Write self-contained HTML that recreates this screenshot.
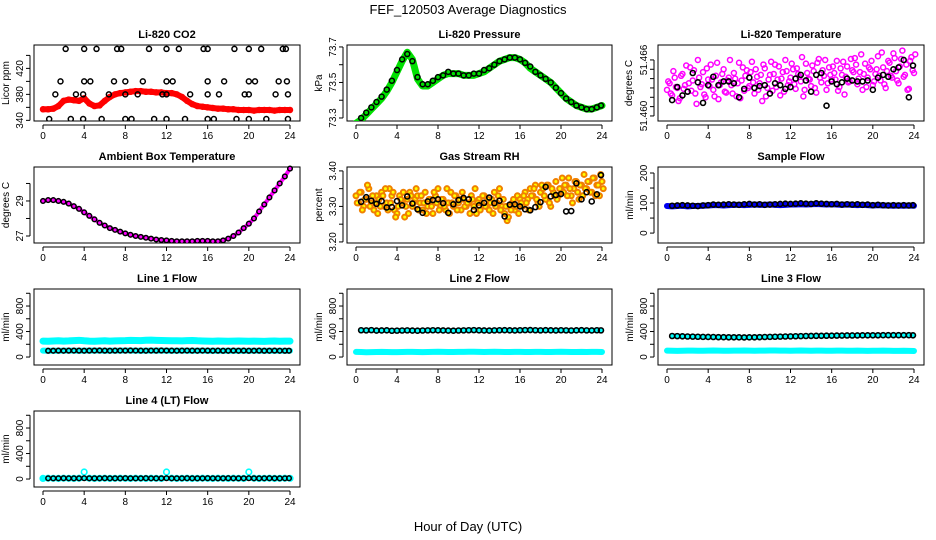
<!DOCTYPE html>
<html><head><meta charset="utf-8">
<style>
html,body{margin:0;padding:0;background:#fff;}
svg{display:block;font-family:"Liberation Sans",Arial,sans-serif;}
</style></head>
<body>
<svg id="chart" width="936" height="540" viewBox="0 0 936 540" xmlns="http://www.w3.org/2000/svg">
<text x="468" y="14" text-anchor="middle" font-size="13">FEF_120503  Average Diagnostics</text>
<text x="468" y="531" text-anchor="middle" font-size="13">Hour of Day (UTC)</text>
</svg>
<script>
// ---------- data ----------
const xTicks = [0,4,8,12,16,20,24];
const halfHours = [0,0.5,1,1.5,2,2.5,3,3.5,4,4.5,5,5.5,6,6.5,7,7.5,8,8.5,9,9.5,10,10.5,11,11.5,12,12.5,13,13.5,14,14.5,15,15.5,16,16.5,17,17.5,18,18.5,19,19.5,20,20.5,21,21.5,22,22.5,23,23.5,24];
const quarterHours = [0,0.25,0.5,0.75,1,1.25,1.5,1.75,2,2.25,2.5,2.75,3,3.25,3.5,3.75,4,4.25,4.5,4.75,5,5.25,5.5,5.75,6,6.25,6.5,6.75,7,7.25,7.5,7.75,8,8.25,8.5,8.75,9,9.25,9.5,9.75,10,10.25,10.5,10.75,11,11.25,11.5,11.75,12,12.25,12.5,12.75,13,13.25,13.5,13.75,14,14.25,14.5,14.75,15,15.25,15.5,15.75,16,16.25,16.5,16.75,17,17.25,17.5,17.75,18,18.25,18.5,18.75,19,19.25,19.5,19.75,20,20.25,20.5,20.75,21,21.25,21.5,21.75,22,22.25,22.5,22.75,23,23.25,23.5,23.75,24];
const blkHours = [0.5,1,1.5,2,2.5,3,3.5,4,4.5,5,5.5,6,6.5,7,7.5,8,8.5,9,9.5,10,10.5,11,11.5,12,12.5,13,13.5,14,14.5,15,15.5,16,16.5,17,17.5,18,18.5,19,19.5,20,20.5,21,21.5,22,22.5,23,23.5,23.9];

const co2Red = [357,357,358,362,370,372,371,370,374,366,362,363,370,376,380,382,383,384,385,385,384,384,383,383,382,382,380,376,370,365,362,361,360,359,358,358,357,357,356,356,356,355,356,356,356,355,356,356,356];
const co2BlkT = [2.2,4,5.2,7.2,7.6,10.3,12,13.2,15.6,16,18.6,20,21.2,23.3,23.6, 1.7,4,4.6,6.9,8,9.7,12,12.6,16,17.6,20,20.6,22.9,23.7, 1.2,3.2,3.9,6.4,8,9.2,11.6,12,14.3,16,17.1,19.6,20,22.6,23.8, 0.6,2.7,3.9,5.7,8,8.6,10.8,12,13.8,16,16.6,18.8,20,21.7,23.8];
const co2BlkV = [450,450,450,450,450,450,450,450,450,450,450,450,450,450,450, 400,400,400,400,400,400,400,400,400,400,400,400,400,400, 380,380,380,380,380,380,380,380,380,380,380,380,380,380,380, 342,342,342,342,342,342,342,342,342,342,342,342,342,342,342];

const presGreen = [73.27,73.29,73.32,73.35,73.38,73.41,73.45,73.50,73.56,73.62,73.67,73.63,73.52,73.48,73.48,73.50,73.52,73.54,73.55,73.55,73.55,73.54,73.54,73.54,73.55,73.56,73.58,73.60,73.62,73.63,73.64,73.64,73.63,73.61,73.58,73.56,73.54,73.52,73.50,73.47,73.44,73.41,73.39,73.37,73.36,73.35,73.35,73.36,73.37];
const presBlk = [73.30,73.33,73.36,73.39,73.42,73.46,73.51,73.57,73.63,73.66,73.62,73.53,73.49,73.49,73.51,73.53,73.54,73.56,73.55,73.55,73.54,73.54,73.55,73.55,73.57,73.58,73.60,73.62,73.63,73.64,73.64,73.63,73.61,73.59,73.56,73.54,73.52,73.50,73.47,73.44,73.41,73.39,73.37,73.36,73.35,73.35,73.36,73.37];

const tempA = [51.4628,51.4635,51.4622,51.4641,51.4630,51.4619,51.4645,51.4633,51.4626,
51.4652,51.4638,51.4624,51.4660,51.4631,51.4647,51.4620,51.4639,
51.4655,51.4628,51.4643,51.4618,51.4636,51.4650,51.4625,51.4641,
51.4633,51.4646,51.4621,51.4657,51.4638,51.4627,51.4649,51.4632,
51.4658,51.4624,51.4642,51.4635,51.4616,51.4651,51.4630,51.4644,
51.4627,51.4655,51.4639,51.4622,51.4647,51.4660,51.4633,51.4641,
51.4650,51.4629,51.4645,51.4637,51.4621,51.4656,51.4640,51.4632,
51.4648,51.4625,51.4661,51.4636,51.4643,51.4628,51.4652,51.4639,
51.4646,51.4659,51.4631,51.4644,51.4623,51.4653,51.4637,51.4649,
51.4662,51.4634,51.4647,51.4628,51.4656,51.4641,51.4650,51.4633,
51.4645,51.4664,51.4638,51.4652,51.4630,51.4659,51.4643,51.4667,
51.4648,51.4635,51.4661,51.4642,51.4655,51.4629,51.4663,51.4646];
const tempB = [51.4637,51.4624,51.4648,51.4631,51.4616,51.4643,51.4629,51.4654,51.4635,
51.4627,51.4649,51.4613,51.4641,51.4634,51.4623,51.4651,51.4632,
51.4639,51.4621,51.4657,51.4633,51.4645,51.4626,51.4638,51.4660,
51.4624,51.4640,51.4635,51.4619,51.4652,51.4643,51.4630,51.4647,
51.4636,51.4650,51.4628,51.4644,51.4655,51.4621,51.4639,51.4658,
51.4645,51.4631,51.4653,51.4640,51.4626,51.4648,51.4637,51.4656,
51.4634,51.4651,51.4642,51.4663,51.4628,51.4646,51.4639,51.4654,
51.4630,51.4657,51.4641,51.4649,51.4660,51.4635,51.4644,51.4653,
51.4639,51.4627,51.4651,51.4658,51.4642,51.4636,51.4661,51.4647,
51.4655,51.4640,51.4666,51.4645,51.4631,51.4652,51.4659,51.4637,
51.4650,51.4643,51.4668,51.4634,51.4648,51.4657,51.4641,51.4662,
51.4638,51.4653,51.4670,51.4644,51.4628,51.4659,51.4649,51.4666];
const tempBlk = [51.4617,51.4631,51.4622,51.4626,51.4646,51.4636,51.4614,51.4633,51.4642,51.4633,51.4637,51.4637,51.4635,51.4620,51.4629,51.4641,51.4630,51.4632,51.4633,51.4624,51.4635,51.4633,51.4629,51.4631,51.4640,51.4644,51.4638,51.4626,51.4644,51.4646,51.4611,51.4637,51.4634,51.4636,51.4640,51.4638,51.4637,51.4637,51.4638,51.4628,51.4641,51.4644,51.4642,51.4650,51.4652,51.4660,51.4620,51.4654];

const ambient = [29.0,29.05,29.05,29.0,28.95,28.85,28.7,28.55,28.35,28.15,27.95,27.75,27.6,27.45,27.35,27.25,27.15,27.07,27.0,26.95,26.9,26.85,26.8,26.77,26.75,26.72,26.7,26.7,26.7,26.7,26.72,26.72,26.72,26.7,26.7,26.75,26.85,27.0,27.2,27.45,27.7,28.0,28.4,28.8,29.2,29.6,30.0,30.4,30.85];

const rhA = [3.33,3.31,3.34,3.30,3.32,3.35,3.31,3.29,3.33,
3.32,3.34,3.30,3.31,3.35,3.33,3.29,3.28,
3.33,3.31,3.27,3.32,3.34,3.30,3.32,3.33,
3.31,3.29,3.34,3.30,3.32,3.28,3.33,3.35,
3.30,3.32,3.29,3.31,3.34,3.30,3.33,3.31,
3.29,3.32,3.30,3.31,3.33,3.30,3.28,3.32,
3.31,3.33,3.30,3.29,3.32,3.34,3.31,3.35,
3.30,3.28,3.26,3.30,3.31,3.29,3.33,3.32,
3.30,3.34,3.32,3.35,3.33,3.36,3.31,3.34,
3.35,3.32,3.36,3.30,3.34,3.37,3.33,3.35,
3.34,3.36,3.38,3.33,3.35,3.37,3.32,3.36,
3.39,3.35,3.37,3.34,3.38,3.36,3.33,3.37];
const rhB = [3.31,3.34,3.29,3.32,3.36,3.30,3.33,3.31,3.28,
3.30,3.33,3.35,3.29,3.31,3.34,3.27,3.30,
3.32,3.34,3.30,3.28,3.33,3.31,3.35,3.29,
3.33,3.31,3.28,3.32,3.30,3.34,3.31,3.29,
3.32,3.30,3.35,3.28,3.31,3.33,3.29,3.32,
3.34,3.30,3.31,3.28,3.32,3.35,3.31,3.29,
3.33,3.30,3.32,3.31,3.28,3.30,3.33,3.29,
3.32,3.30,3.27,3.29,3.32,3.30,3.28,3.31,
3.33,3.31,3.29,3.33,3.35,3.32,3.30,3.36,
3.33,3.36,3.31,3.35,3.33,3.32,3.35,3.38,
3.36,3.33,3.35,3.31,3.37,3.34,3.36,3.33,
3.35,3.37,3.34,3.38,3.33,3.36,3.39,3.35];
const rhBlk = [3.313,3.326,3.316,3.307,3.315,3.297,3.298,3.315,3.303,3.328,3.308,3.292,3.282,3.314,3.318,3.320,3.309,3.282,3.306,3.318,3.324,3.320,3.290,3.303,3.310,3.325,3.309,3.316,3.272,3.305,3.306,3.300,3.292,3.289,3.298,3.312,3.355,3.328,3.332,3.335,3.286,3.287,3.365,3.320,3.340,3.314,3.334,3.388];

const sampleBlue = [90,89,90,91,89,90,90,91,92,93,93,92,93,94,94,93,94,95,94,94,95,94,93,94,95,95,96,95,96,97,96,95,96,95,94,95,94,93,94,93,92,93,92,92,91,92,91,92,91];
const sampleBlk = [91,92,93,92,91,90,92,93,95,94,95,96,95,94,96,97,95,96,94,95,96,97,98,97,98,99,98,97,99,98,97,96,97,95,96,95,96,94,95,93,94,93,92,93,92,93,92,93];

const line1Cyan = [250,248,252,255,250,253,258,262,255,250,248,252,255,250,253,256,258,262,260,258,263,265,262,260,258,256,255,253,258,260,255,252,250,248,252,250,248,250,252,249,247,250,248,246,249,251,248,250,249];
const line1Low = [100,99,100,99,100,101,100,99,100,101,102,100,99,100,101,100,102,101,100,99,101,100,102,101,100,99,100,101,100,99,101,100,99,100,98,99,100,99,100,98,99,100,98,99,100,99,98,99,99];
const line1Blk = [98,99,100,99,100,101,100,99,100,101,102,100,99,100,101,100,102,101,100,99,101,100,102,101,100,99,100,101,100,99,101,100,99,100,98,99,100,99,100,98,99,100,98,99,100,99,98,99];
const line2Blk = [420,418,422,415,417,419,412,414,416,418,415,413,416,418,420,419,417,415,413,416,418,420,422,419,417,415,418,420,421,419,417,420,422,423,420,418,421,419,417,420,418,416,419,421,418,417,420,418];
const line2Cyan = [80,78,75,77,79,80,78,76,77,79,81,80,78,77,79,80,82,81,79,78,80,81,83,82,80,79,81,82,80,78,79,81,80,79,78,80,81,79,78,80,82,81,79,78,80,79,81,80,79];
const line3Blk = [330,328,325,322,320,318,316,315,314,312,311,310,310,309,308,309,310,312,314,316,318,320,322,324,326,328,330,331,332,333,334,335,336,337,338,338,339,340,340,341,341,342,342,343,342,343,342,341];
const line3Cyan = [100,98,97,99,100,101,99,98,100,102,101,99,98,100,101,102,100,99,101,100,102,103,101,100,99,101,102,100,99,101,100,98,99,101,100,99,98,100,99,97,98,99,100,98,97,96,98,97,95];
const line4Cyan = [10,12,11,10,12,11,10,12,110,12,10,11,12,10,11,12,11,10,12,11,10,12,11,10,110,12,10,11,12,10,11,12,11,10,12,11,10,12,11,10,110,12,10,11,12,10,11,12,11];
const line4Base = [10,12,11,10,12,11,10,12,11,12,10,11,12,10,11,12,11,10,12,11,10,12,11,10,11,12,10,11,12,10,11,12,11,10,12,11,10,12,11,10,11,12,10,11,12,10,11,12,11];
const line4Blk = [12,11,12,13,12,11,12,13,12,11,12,13,12,11,12,13,12,11,12,13,12,11,12,13,12,11,12,13,12,11,12,13,12,11,12,13,12,11,12,13,12,11,12,13,12,11,12,13];

// ---------- layout ----------
const svg = document.getElementById('chart');
const NS = 'http://www.w3.org/2000/svg';
const colBox = [[34,300],[347,612],[658,924]];
const rowTop = [45,167,289,411];
const BOXH = 76;

function mk(tag, attrs, parent){
  const e = document.createElementNS(NS, tag);
  for (const k in attrs) e.setAttribute(k, attrs[k]);
  (parent||svg).appendChild(e);
  return e;
}

function panel(p){
  const g = mk('g', {});
  
  
  const L = colBox[p.col][0], R = colBox[p.col][1], T = rowTop[p.row], B = T + BOXH;
  const x = h => (L + 9) + h * ((R - 10) - (L + 9)) / 24;
  const y = v => B - (v - p.ymin) * BOXH / (p.ymax - p.ymin);
  const t = mk('text', {x:(L+R)/2, y:T-7, 'text-anchor':'middle', 'font-size':'11', 'font-weight':'bold'}, g);
  t.textContent = p.title;
  
  
  const box = mk('rect', {x:L, y:T, width:R-L, height:BOXH, fill:'none', stroke:'#000', 'stroke-width':1}, g);
  
  
  const xa = mk('g', {}, g);
  
  
  mk('line', {x1:x(0), x2:x(24), y1:B+4, y2:B+4, stroke:'#000'}, xa);
  xTicks.forEach(v => {
    mk('line', {x1:x(v), x2:x(v), y1:B+4, y2:B+8, stroke:'#000'}, xa);
    const tl = mk('text', {x:x(v), y:B+18, 'text-anchor':'middle', 'font-size':'10'}, xa);
    tl.textContent = v;
    
    
  });
  const ya = mk('g', {}, g);
  
  
  mk('line', {x1:L-4, x2:L-4, y1:y(p.yticks[0]), y2:y(p.yticks[p.yticks.length-1]), stroke:'#000'}, ya);
  p.yticks.forEach(v => mk('line', {x1:L-8, x2:L-4, y1:y(v), y2:y(v), stroke:'#000'}, ya));
  p.ylabels.forEach(v => {
    const yl = mk('text', {x:0, y:0, 'text-anchor':'middle', 'font-size':'10', transform:`translate(${L-11},${y(v)}) rotate(-90)`}, ya);
    yl.textContent = p.fmt ? p.fmt(v) : v;
    
    
  });
  const yt = mk('text', {x:0, y:0, 'text-anchor':'middle', 'font-size':'10', transform:`translate(${L-p.titleOff},${T+BOXH/2}) rotate(-90)`}, ya);
  yt.textContent = p.ytitle;
  
  
  const clip = 'c' + p.name;
  const cp = mk('clipPath', {id:clip}, g);
  mk('rect', {x:L, y:T-3, width:R-L, height:BOXH+3}, cp);
  const d = mk('g', {'clip-path':`url(#${clip})`}, g);
  
  
  return {x, y, g:d};
}

function band(P, xs, vs, color, w, name){
  const pl = mk('polyline', {points: xs.map((h,i)=>P.x(h)+','+P.y(vs[i])).join(' '), fill:'none', stroke:color, 'stroke-width':w, 'stroke-linejoin':'round', 'stroke-linecap':'round'}, P.g);
  
  
}
function dots(P, xs, vs, color, r, sw, name, fill){
  const gg = mk('g', {}, P.g);
  
  
  xs.forEach((h,i) => {
    const c = mk('circle', {cx:P.x(h), cy:P.y(vs[i]), r:r, fill:fill||'none', stroke:color, 'stroke-width':sw}, gg);
    
    
  });
}

let P = panel({name:'co2-panel', col:0, row:0, title:'Li-820 CO2', ytitle:'Licor ppm', titleOff:25, ymin:339, ymax:456, yticks:[340,360,380,400,420,440], ylabels:[340,380,420]});
band(P, halfHours, co2Red, '#f00', 6, 'co2-band');
dots(P, halfHours, co2Red, '#f00', 2.5, 1.5, 'co2-red-points');
dots(P, co2BlkT, co2BlkV, '#000', 2.5, 1.5, 'co2-black-points');

P = panel({name:'pressure-panel', col:1, row:0, title:'Li-820 Pressure', ytitle:'kPa', titleOff:25, ymin:73.283, ymax:73.711, yticks:[73.3,73.4,73.5,73.6,73.7], ylabels:[73.3,73.5,73.7], fmt:v=>v.toFixed(1)});
band(P, halfHours, presGreen, '#00e000', 7, 'pressure-band');
dots(P, blkHours, presBlk, '#000', 2.5, 1.5, 'pressure-black-points');

P = panel({name:'temperature-panel', col:2, row:0, title:'Li-820 Temperature', ytitle:'degrees C', titleOff:26, ymin:51.45946, ymax:51.4676, yticks:[51.460,51.461,51.462,51.463,51.464,51.465,51.466], ylabels:[51.460,51.466], fmt:v=>v.toFixed(3)});
dots(P, quarterHours, tempA, '#f0f', 2.5, 1.5, 'temp-magenta-a');
dots(P, quarterHours.map(h=>h+0.12), tempB, '#f0f', 2.5, 1.5, 'temp-magenta-b');
dots(P, blkHours, tempBlk, '#000', 2.5, 1.6, 'temp-black-points');

P = panel({name:'ambient-panel', col:0, row:1, title:'Ambient Box Temperature', ytitle:'degrees C', titleOff:25, ymin:26.6, ymax:30.94, yticks:[27,28,29,30], ylabels:[27,29]});
band(P, halfHours, ambient, '#f0f', 4, 'ambient-band');
dots(P, halfHours, ambient, '#000', 2.3, 1.5, 'ambient-black-points');

P = panel({name:'rh-panel', col:1, row:1, title:'Gas Stream RH', ytitle:'percent', titleOff:25, ymin:3.197, ymax:3.411, yticks:[3.20,3.25,3.30,3.35,3.40], ylabels:[3.20,3.30,3.40], fmt:v=>v.toFixed(2)});
dots(P, quarterHours, rhA, '#f08000', 2.5, 2, 'rh-orange-a', '#ff0');
dots(P, quarterHours.map(h=>h+0.12), rhB, '#f08000', 2.5, 2, 'rh-orange-b', '#ff0');
dots(P, blkHours, rhBlk, '#000', 2.5, 1.6, 'rh-black-points');

P = panel({name:'sample-flow-panel', col:2, row:1, title:'Sample Flow', ytitle:'ml/min', titleOff:25, ymin:-33, ymax:220, yticks:[0,50,100,150,200], ylabels:[0,100,200]});
band(P, halfHours, sampleBlue, '#0000f0', 6, 'sample-band');
dots(P, blkHours, sampleBlk, '#000', 2.5, 1.6, 'sample-black-points');

const flowTicks = [0,200,400,600,800,1000];
const flowLabels = [0,400,800];
P = panel({name:'line1-panel', col:0, row:2, title:'Line 1 Flow', ytitle:'ml/min', titleOff:25, ymin:-125, ymax:1067, yticks:flowTicks, ylabels:flowLabels});
band(P, halfHours, line1Cyan, '#0ff', 7, 'line1-cyan-band');
band(P, halfHours, line1Low, '#0ff', 6, 'line1-cyan-low');
dots(P, blkHours, line1Blk, '#000', 2.3, 1.6, 'line1-black-points');

P = panel({name:'line2-panel', col:1, row:2, title:'Line 2 Flow', ytitle:'ml/min', titleOff:25, ymin:-125, ymax:1067, yticks:flowTicks, ylabels:flowLabels});
band(P, halfHours, line2Cyan, '#0ff', 6, 'line2-cyan-band');
band(P, blkHours, line2Blk, '#0ff', 5, 'line2-cyan-high');
dots(P, blkHours, line2Blk, '#000', 2.5, 1.6, 'line2-black-points');

P = panel({name:'line3-panel', col:2, row:2, title:'Line 3 Flow', ytitle:'ml/min', titleOff:25, ymin:-125, ymax:1067, yticks:flowTicks, ylabels:flowLabels});
band(P, halfHours, line3Cyan, '#0ff', 6, 'line3-cyan-band');
band(P, blkHours, line3Blk, '#0ff', 5, 'line3-cyan-high');
dots(P, blkHours, line3Blk, '#000', 2.5, 1.6, 'line3-black-points');

P = panel({name:'line4-panel', col:0, row:3, title:'Line 4 (LT) Flow', ytitle:'ml/min', titleOff:25, ymin:-125, ymax:1067, yticks:flowTicks, ylabels:flowLabels});
band(P, halfHours, line4Base, '#0ff', 5, 'line4-cyan-band');
dots(P, halfHours, line4Cyan, '#0ff', 2.8, 1.6, 'line4-cyan-points');
dots(P, blkHours, line4Blk, '#000', 2.3, 1.5, 'line4-black-points');
</script>
</body></html>
